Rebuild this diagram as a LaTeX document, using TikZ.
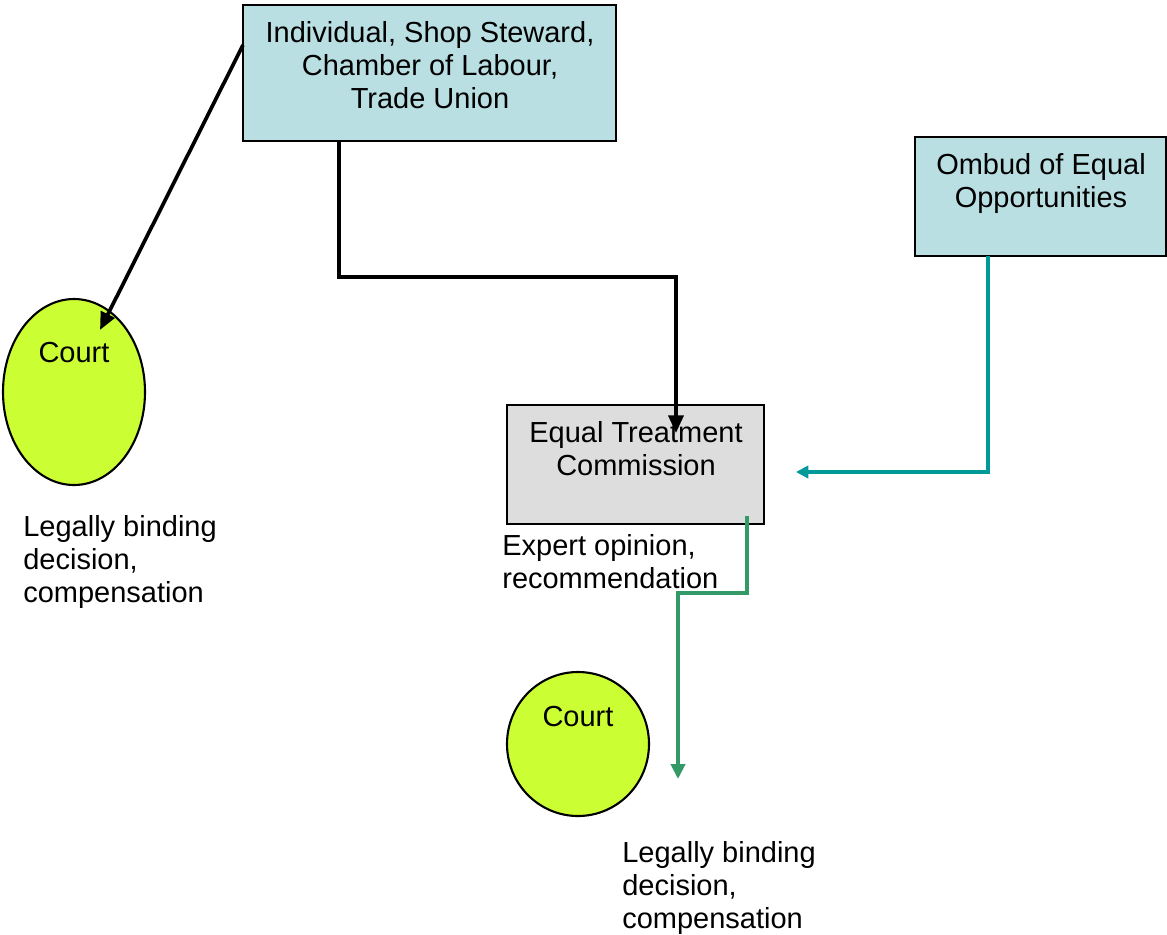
\documentclass[tikz,border=0pt]{standalone}
\usepackage{fontspec}
\setmainfont{Liberation Sans}
\usetikzlibrary{arrows.meta}
\definecolor{boxblue}{HTML}{B9DFE3}
\definecolor{boxgray}{HTML}{DDDDDD}
\definecolor{courtgreen}{HTML}{CCFF33}
\definecolor{tealline}{HTML}{009999}
\definecolor{greenline}{HTML}{339966}
\begin{document}
\begin{tikzpicture}[x=0.02cm,y=-0.02cm,
  box/.style={draw=black, line width=1.2pt, inner sep=0pt},
  txt/.style={inner sep=0pt, font=\fontsize{16.5}{18.9}\selectfont},
  blackarrow/.style={draw=black, line width=2.1pt, -{Triangle[length=10pt,width=8.5pt]}},
  tealarrow/.style={draw=tealline, line width=2.1pt, -{Triangle[length=7pt,width=7pt]}},
  greenarrow/.style={draw=greenline, line width=2.1pt, -{Triangle[length=8.5pt,width=8pt]}}]
\useasboundingbox (0,0) rectangle (1167,934);
% boxes
\path[box, fill=boxblue] (243,5) rectangle (616,141);
\node[inner sep=0pt, minimum width=373*0.02cm, minimum height=136*0.02cm] (top) at (429.5,73) {};
\path[box, fill=boxblue] (915,137) rectangle (1166,256);
\node[inner sep=0pt, minimum width=251*0.02cm, minimum height=119*0.02cm] (omb) at (1040.5,196.5) {};
\path[box, fill=boxgray] (507,405) rectangle (764,524);
\node[inner sep=0pt, minimum width=257*0.02cm, minimum height=119*0.02cm] (etc) at (635.5,464.5) {};
% courts
\draw[line width=1.2pt, fill=courtgreen] (74,392) ellipse [x radius=71, y radius=93];
\coordinate (court1) at (74,392);
\draw[line width=1.2pt, fill=courtgreen] (578,744) ellipse [x radius=71, y radius=72];
\coordinate (court2) at (578,744);
% texts
\node[txt, align=center, anchor=north] (toptxt) at (430,21) {Individual, Shop Steward,\\Chamber of Labour,\\Trade Union};
\node[txt, align=center, anchor=north] (ombtxt) at (1041,153) {Ombud of Equal\\Opportunities};
\node[txt, align=center, anchor=north] (etctxt) at (636,421) {Equal Treatment\\Commission};
\node[txt, anchor=north] (court1txt) at (74,342) {Court};
\node[txt, anchor=north] (court2txt) at (578,706) {Court};
\node[txt, align=left, anchor=north west] (lb1) at (23,515) {Legally binding\\decision,\\compensation};
\node[txt, align=left, anchor=north west] (lb2) at (622,841) {Legally binding\\decision,\\compensation};
\node[txt, align=left, anchor=north west] (exp) at (502,534) {Expert opinion,\\recommendation};
% connectors
\coordinate (a1) at (243,45);
\coordinate (a2) at (100,330);
\draw[blackarrow] (a1) -- (a2);
\coordinate (b1) at (339,141);
\coordinate (b2) at (676,433);
\draw[blackarrow] (b1) |- (339,277) -| (b2);
\coordinate (c1) at (988,256);
\coordinate (c2) at (796,472);
\draw[tealarrow] (c1) |- (c2);
\coordinate (d1) at (747,516);
\coordinate (d2) at (678,779);
\draw[greenarrow] (d1) |- (678,593) -- (d2);
\end{tikzpicture}
\end{document}
